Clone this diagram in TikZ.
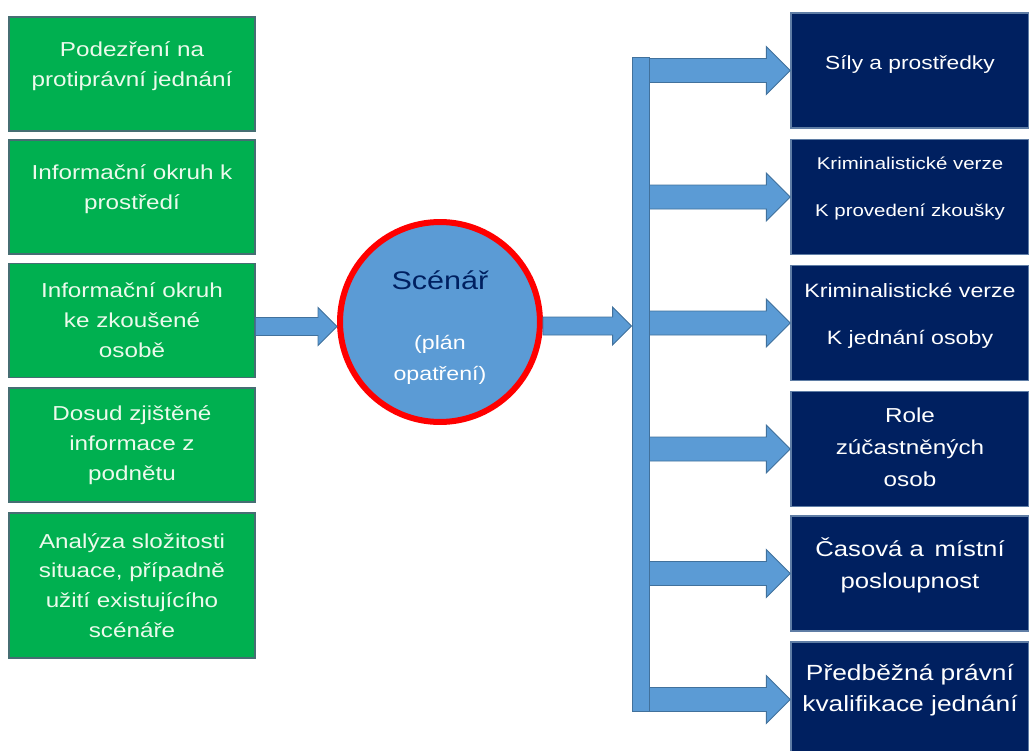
\documentclass[tikz,border=0pt]{standalone}
\usepackage{fontspec}
\setmainfont{Liberation Sans}[FakeStretch=1.2]
\usetikzlibrary{calc}
\definecolor{leafgreen}{RGB}{0,176,80}
\definecolor{leafedge}{RGB}{70,110,115}
\definecolor{leaftext}{RGB}{236,250,236}
\definecolor{nightblue}{RGB}{0,32,96}
\definecolor{nightedge}{RGB}{95,125,165}
\definecolor{skyblue}{RGB}{91,155,213}
\definecolor{skyedge}{RGB}{65,113,156}
\definecolor{ringred}{RGB}{255,0,0}

\tikzset{
  gbox/.style={rectangle, fill=leafgreen, draw=leafedge, line width=0.6pt,
               minimum width=4.92cm, minimum height=2.28cm, inner sep=0pt},
  gtext/.style={text=leaftext, align=center, font=\fontsize{11.5}{17}\selectfont},
  nbox/.style={rectangle, fill=nightblue, draw=nightedge, line width=0.8pt,
               minimum width=4.76cm, minimum height=2.3cm, inner sep=0pt},
  ntext/.style={text=white, align=center},
  barrow/.style={fill=skyblue, draw=skyedge, line width=0.5pt},
}

% block arrow: from, to, half shaft, half head (= head length)
\newcommand{\blockarrow}[4]{%
  \filldraw[barrow] let \p1=(#1), \p2=(#2) in
    (\x1,\y2+#3) -- (\x2-#4,\y2+#3) -- (\x2-#4,\y2+#4) -- (\x2,\y2)
    -- (\x2-#4,\y2-#4) -- (\x2-#4,\y2-#3) -- (\x1,\y2-#3) -- cycle;}

\begin{document}
\begin{tikzpicture}[x=0.02cm, y=-0.02cm]
  \clip (0,0) rectangle (1029,751);

  % inputs
  \node[gbox, label={[gtext, yshift=0.15cm]center:{Podezření na\\protiprávní jednání}}] (g1) at (132,74) {};
  \node[gbox, label={[gtext, yshift=0.16cm]center:{Informační okruh k\\prostředí}}] (g2) at (132,197) {};
  \node[gbox, label={[gtext]center:{Informační okruh\\ke zkoušené\\osobě}}] (g3) at (132,320.5) {};
  \node[gbox, label={[gtext]center:{Dosud zjištěné\\informace z\\podnětu}}] (g4) at (132,445) {};
  \node[gbox, minimum height=2.9cm,
        label={[gtext]center:{Analýza složitosti\\situace, případně\\užití existujícího\\scénáře}}] (g5) at (132,585.5) {};

  % scenario
  \node[circle, fill=skyblue, draw=ringred, line width=0.12cm, minimum size=4cm, inner sep=0pt,
        label={[text=white, align=center, font=\fontsize{11}{17.6}\selectfont, yshift=-0.11cm]center:{%
          {\fontsize{14.5}{17}\selectfont\color{nightblue}Scénář}\\[17pt](plán\\opatření)}}] (scen) at (440,322) {};

  % bus bar
  \node[rectangle, fill=skyblue, draw=skyedge, line width=0.5pt, minimum width=0.34cm,
        minimum height=13.08cm, inner sep=0pt] (bus) at (640.5,384.5) {};

  % outputs
  \node[nbox, label={[ntext, yshift=0.13cm, font=\fontsize{10.8}{13}\selectfont]center:{Síly a prostředky}}] (n1) at (910,70.5) {};
  \node[nbox, label={[ntext, yshift=0.17cm, font=\fontsize{9.7}{26.7}\selectfont]center:{Kriminalistické verze\\K provedení zkoušky}}] (n2) at (910,197) {};
  \node[nbox, label={[ntext, yshift=0.15cm, font=\fontsize{11}{26.7}\selectfont]center:{Kriminalistické verze\\K jednání osoby}}] (n3) at (910,323) {};
  \node[nbox, label={[ntext, yshift=0.04cm, font=\fontsize{11.5}{18.2}\selectfont]center:{Role\\zúčastněných\\osob}}] (n4) at (910,449) {};
  \node[nbox, label={[ntext, yshift=0.16cm, font=\fontsize{12.2}{18}\selectfont]center:{Časová a\ \,místní\\posloupnost}}] (n5) at (910,573.5) {};
  \node[nbox, label={[ntext, yshift=0.19cm, font=\fontsize{12.5}{17.6}\selectfont]center:{Předběžná právní\\kvalifikace jednání}}] (n6) at (910,699.5) {};

  % arrows
  \blockarrow{g3.east}{[yshift=-0.09cm]scen.west}{0.18cm}{0.38cm}
  \blockarrow{scen.east}{[yshift=-0.08cm]bus.west |- scen.east}{0.18cm}{0.38cm}
  \foreach \outid in {n1,n2,n3,n4,n5,n6} {\blockarrow{bus.east}{\outid.west}{0.24cm}{0.48cm}}
\end{tikzpicture}
\end{document}
